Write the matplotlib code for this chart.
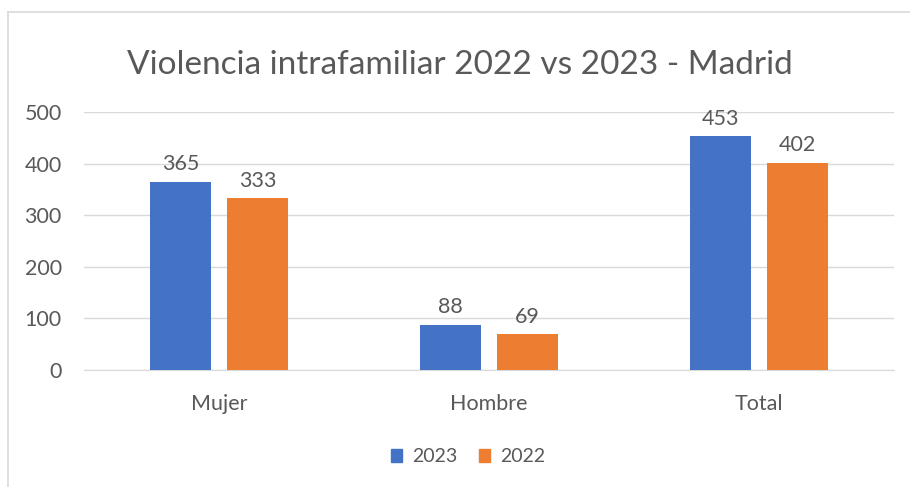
import matplotlib
matplotlib.use("Agg")
import matplotlib.pyplot as plt
import numpy as np
from matplotlib.lines import Line2D

categories = ["Mujer", "Hombre", "Total"]
series_names = ["2023", "2022"]
values_2023 = [365, 88, 453]
values_2022 = [333, 69, 402]
yticks = [0, 100, 200, 300, 400, 500]

plt.rcParams['font.family'] = ['Lato', 'DejaVu Sans']
text_color = "#595959"
colors = ["#4472C4", "#ED7D31"]

fig = plt.figure(figsize=(9.1, 4.87), dpi=100)
W, H = 910, 487
ax = fig.add_axes([84 / W, 1 - 370 / H, (894 - 84) / W, (370 - 112) / H])

x = np.arange(len(categories))
bw = 0.226
gap = 0.059
offs = [-(bw + gap) / 2, (bw + gap) / 2]
for vals, off, c in zip([values_2023, values_2022], offs, colors):
    bars = ax.bar(x + off, vals, width=bw, color=c, zorder=3)
    for b, v in zip(bars, vals):
        ax.text(b.get_x() + b.get_width() / 2, v + 14, str(v), ha="center", va="bottom",
                fontsize=15.5, color=text_color, zorder=4)

ax.set_xlim(-0.5, len(categories) - 0.5)
ax.set_ylim(0, 500)
ax.set_yticks(yticks)
ax.set_yticklabels([str(t) for t in yticks])
ax.set_xticks(x)
ax.set_xticklabels(categories)
ax.tick_params(axis="both", length=0, labelsize=15.5, labelcolor=text_color)
ax.tick_params(axis="y", pad=16)
ax.tick_params(axis="x", pad=17)
ax.grid(axis="y", color="#D9D9D9", linewidth=1, zorder=0)
for s in ["top", "right", "left"]:
    ax.spines[s].set_visible(False)
ax.spines["bottom"].set_color("#D9D9D9")

fig.text(460 / W, 1 - 65 / H, "Violencia intrafamiliar 2022 vs 2023 - Madrid", ha="center", va="center",
         fontsize=24, color=text_color)

handles = [plt.Rectangle((0, 0), 1, 1, color=c) for c in colors]
fig.legend(handles, series_names, loc="center", bbox_to_anchor=(468 / W, 1 - 457 / H), ncol=2,
           frameon=False, fontsize=14, labelcolor=text_color, handlelength=0.6, handleheight=0.6,
           handletextpad=0.5, columnspacing=1.1)

# chart border (left and top visible)
fig.add_artist(Line2D([8 / W, 8 / W], [0, 1 - 12 / H], transform=fig.transFigure, color="#D9D9D9", linewidth=1.2))
fig.add_artist(Line2D([8 / W, 1], [1 - 12 / H, 1 - 12 / H], transform=fig.transFigure, color="#D9D9D9", linewidth=1.2))

fig.savefig("out.png", dpi=100)
